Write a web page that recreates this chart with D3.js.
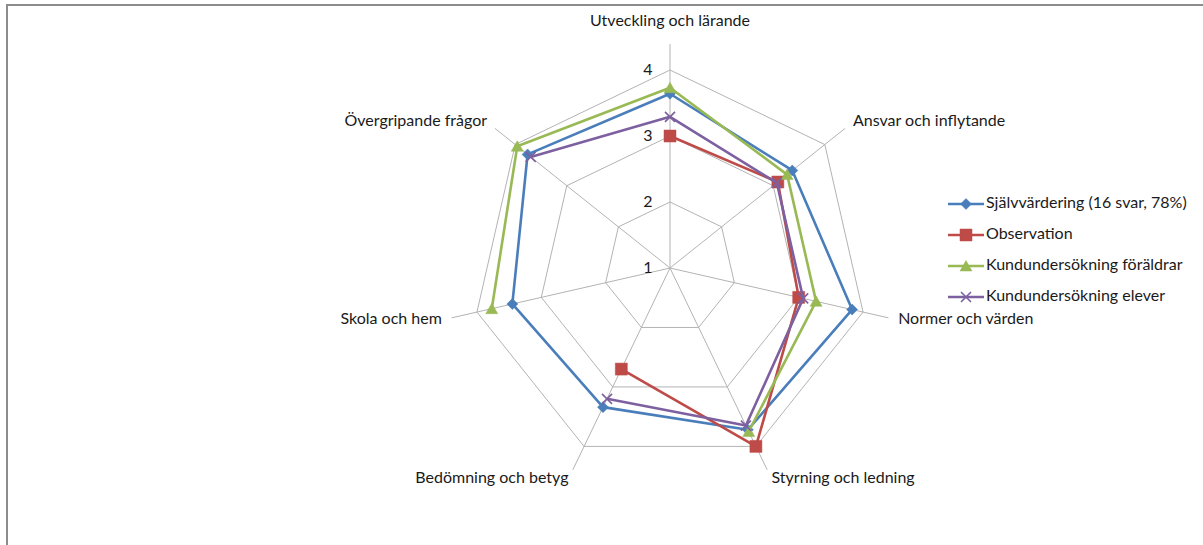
<!DOCTYPE html>
<html>
<head>
<meta charset="utf-8">
<script src="https://cdn.jsdelivr.net/npm/d3@7"></script>
<style>
  body { margin: 0; background: #fff; }
  svg text { font-family: Lato, "Open Sans", sans-serif; font-size: 16px; fill: #1a1a1a; }
</style>
</head>
<body>
<div id="chart"></div>
<script>
// radar chart, 7 areas, four sources. null = no value (line breaks there)

const categories = [
  'Utveckling och lärande',
  'Ansvar och inflytande',
  'Normer och värden',
  'Styrning och ledning',
  'Bedömning och betyg',
  'Skola och hem',
  'Övergripande frågor'
];

const seriesNames = [
  'Självvärdering (16 svar, 78%)',
  'Observation',
  'Kundundersökning föräldrar',
  'Kundundersökning elever'
];

const selfEval    = [3.64, 3.37, 3.83, 3.72, 3.34, 3.45, 3.76];
const observation = [3.0, 3.09, 3.0, 4.0, 2.7, null, null];
const parents     = [3.73, 3.27, 3.27, 3.75, null, 3.77, 3.96];
const pupils      = [3.29, 3.07, 3.07, 3.65, 3.2, null, 3.70];

const tickValues = [1, 2, 3, 4];

const WIDTH = 1203, HEIGHT = 545;
const cx = 670, cy = 268;
const colors = ['#4a7ebb', '#be4b48', '#98b954', '#7d60a0'];
const shapes = ['diamond', 'square', 'triangle', 'x'];

const r = d3.scaleLinear().domain([1, 4]).range([0, 198]);
const angle = d3.scalePoint().domain(d3.range(categories.length))
  .range([0, 2 * Math.PI * (categories.length - 1) / categories.length]);
const spokeEnd = 224;

function marker(sel, shape, color) {
  let d;
  if (shape === 'diamond') d = 'M0,-5.5L5.5,0L0,5.5L-5.5,0Z';
  else if (shape === 'square') d = 'M-6,-6H6V6H-6Z';
  else if (shape === 'triangle') d = 'M0,-5.5L6,5L-6,5Z';
  else d = 'M-5,-5L5,5M5,-5L-5,5';
  sel.append('path')
    .attr('d', d)
    .attr('fill', shape === 'x' ? 'none' : color)
    .attr('stroke', color)
    .attr('stroke-width', shape === 'x' ? 1.6 : 0.5);
}

function draw() {
  const svg = d3.select('#chart').append('svg')
    .attr('width', WIDTH)
    .attr('height', HEIGHT);

  // chart border
  svg.append('path')
    .attr('d', `M7,${HEIGHT}V5H${WIDTH}`)
    .attr('fill', 'none')
    .attr('stroke', '#8c8c8c')
    .attr('stroke-width', 2);

  const g = svg.append('g').attr('transform', `translate(${cx},${cy})`);
  const idx = d3.range(categories.length);
  const pt = (i, rad) => [Math.sin(angle(i)) * rad, -Math.cos(angle(i)) * rad];

  // rings
  g.selectAll('.ring')
    .data(tickValues.filter(v => v > 1))
    .enter()
    .append('polygon')
    .attr('points', v => idx.map(i => pt(i, r(v)).join(',')).join(' '))
    .attr('fill', 'none')
    .attr('stroke', '#b3b3b3')
    .attr('stroke-width', 1);

  // spokes
  g.selectAll('.spoke')
    .data(idx)
    .enter()
    .append('line')
    .attr('x1', 0).attr('y1', 0)
    .attr('x2', i => pt(i, spokeEnd)[0])
    .attr('y2', i => pt(i, spokeEnd)[1])
    .attr('stroke', '#b3b3b3')
    .attr('stroke-width', 1);

  // value labels along top spoke
  g.selectAll('.tick')
    .data(tickValues)
    .enter()
    .append('text')
    .attr('x', -22)
    .attr('y', v => -r(v) + 1)
    .attr('text-anchor', 'middle')
    .attr('dominant-baseline', 'middle')
    .text(d => d);

  // category labels
  g.selectAll('.cat')
    .data(categories)
    .enter()
    .append('text')
    .each(function (d, i) {
      const s = Math.sin(angle(i)), c = Math.cos(angle(i));
      const [x, y] = pt(i, spokeEnd + 10);
      const t = d3.select(this);
      t.attr('x', x)
        .attr('y', c > 0.95 ? y - 12 : y)
        .attr('dominant-baseline', 'middle')
        .attr('text-anchor', Math.abs(s) < 0.1 ? 'middle' : (s > 0 ? 'start' : 'end'))
        .text(d);
    });

  // series
  const allSeries = [selfEval, observation, parents, pupils];
  const line = d3.lineRadial()
    .defined(d => d.v != null)
    .angle(d => angle(d.i))
    .radius(d => r(d.v));

  allSeries.forEach((vals, k) => {
    const pts = vals.map((v, i) => ({ v, i }));
    pts.push({ v: vals[0], i: 0 });
    g.append('path')
      .datum(pts)
      .attr('d', line)
      .attr('fill', 'none')
      .attr('stroke', colors[k])
      .attr('stroke-width', 2.6)
      .attr('stroke-linejoin', 'round');

    g.selectAll(null)
      .data(vals.map((v, i) => ({ v, i })).filter(d => d.v != null))
      .enter()
      .append('g')
      .attr('transform', d => `translate(${pt(d.i, r(d.v)).join(',')})`)
      .each(function () { marker(d3.select(this), shapes[k], colors[k]); });
  });

  // legend
  const legend = svg.append('g').attr('transform', 'translate(948,204)');
  const items = legend.selectAll('g')
    .data(seriesNames)
    .enter()
    .append('g')
    .attr('transform', (d, i) => `translate(0,${i * 31})`);
  items.append('line')
    .attr('x1', 0).attr('x2', 36)
    .attr('stroke', (d, i) => colors[i])
    .attr('stroke-width', 2.6);
  items.append('g')
    .attr('transform', 'translate(18,0)')
    .each(function (d, i) { marker(d3.select(this), shapes[i], colors[i]); });
  items.append('text')
    .attr('x', 38)
    .attr('dominant-baseline', 'middle')
    .text(d => d);
}

document.addEventListener('DOMContentLoaded', draw);
</script>
</body>
</html>
